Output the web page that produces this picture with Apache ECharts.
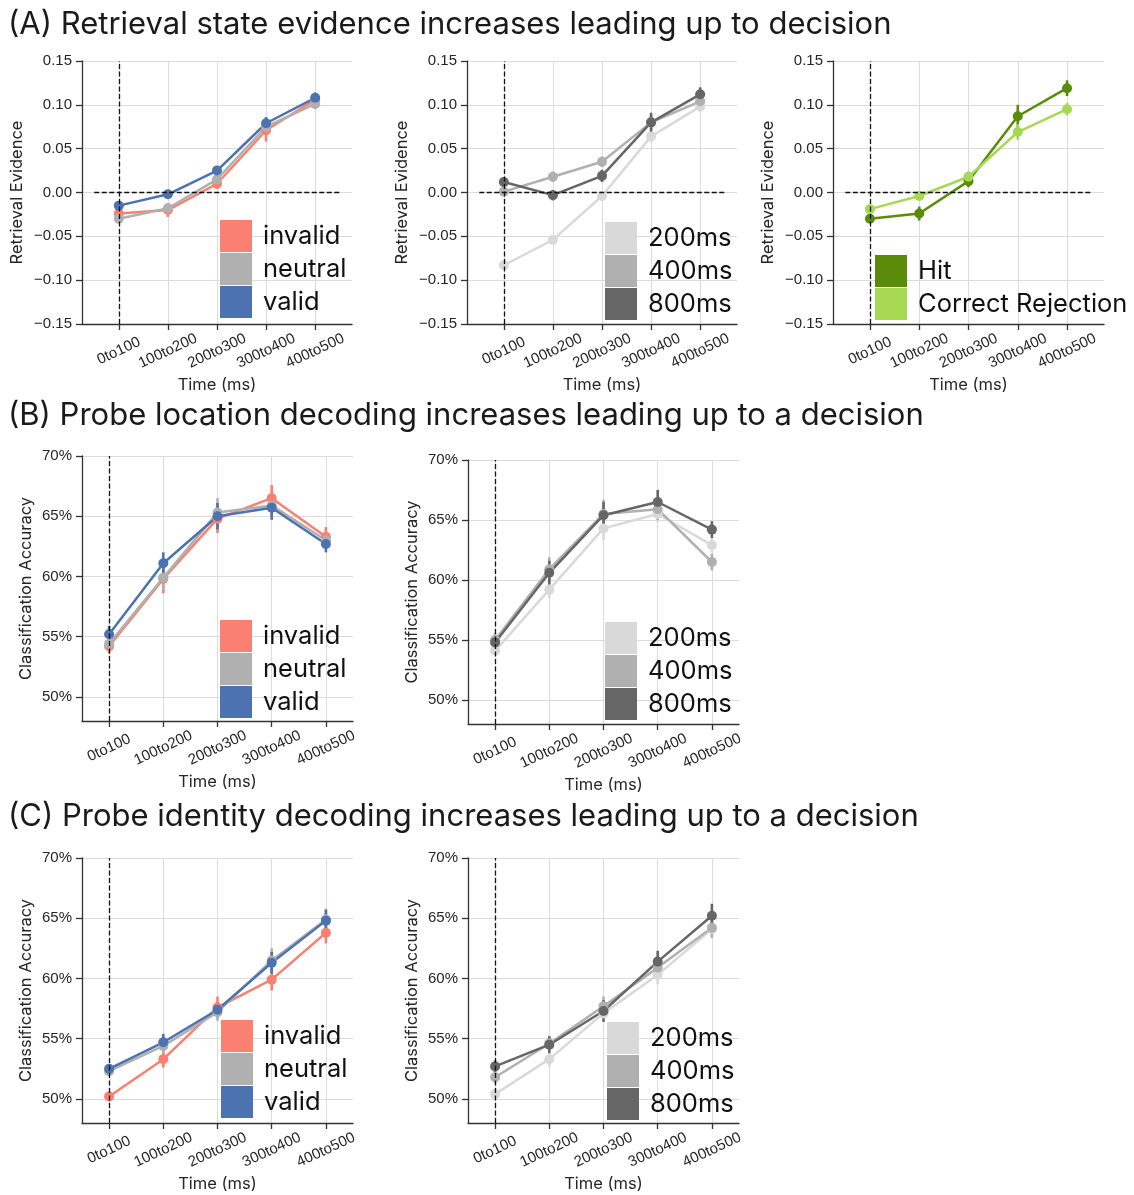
<!DOCTYPE html>
<html>
<head>
<meta charset="utf-8">
<script src="https://cdn.jsdelivr.net/npm/echarts@6/dist/echarts.min.js"></script>
<style>
html,body{margin:0;padding:0;background:#fff;}
#chart{width:1134px;height:1195px;}
</style>
</head>
<body>
<div id="chart"></div>
<script>
// ---------- data ----------
const categories = ['0to100', '100to200', '200to300', '300to400', '400to500'];
const retrievalTicks = [-0.15, -0.10, -0.05, 0, 0.05, 0.10, 0.15];
const accuracyTicks = [50, 55, 60, 65, 70];

const cueNames = ['invalid', 'neutral', 'valid'];
const delayNames = ['200ms', '400ms', '800ms'];
const respNames = ['Hit', 'Correct Rejection'];

// (A) retrieval evidence
const retInvalid = [-0.024, -0.020, 0.010, 0.071, 0.106];
const retNeutral = [-0.030, -0.018, 0.015, 0.075, 0.101];
const retValid = [-0.015, -0.002, 0.025, 0.079, 0.108];
const retInvalidErr = [0.005, 0.008, 0.006, 0.013, 0.006];
const retNeutralErr = [0.005, 0.006, 0.006, 0.008, 0.006];
const retValidErr = [0.004, 0.004, 0.005, 0.007, 0.006];

const ret200 = [-0.083, -0.054, -0.004, 0.064, 0.098];
const ret400 = [0.001, 0.018, 0.035, 0.080, 0.104];
const ret800 = [0.012, -0.003, 0.019, 0.080, 0.112];
const ret200Err = [0.003, 0.005, 0.005, 0.007, 0.006];
const ret400Err = [0.005, 0.006, 0.006, 0.008, 0.006];
const ret800Err = [0.005, 0.006, 0.007, 0.011, 0.008];

const retHit = [-0.030, -0.024, 0.013, 0.087, 0.119];
const retCR = [-0.019, -0.004, 0.018, 0.069, 0.095];
const retHitErr = [0.004, 0.008, 0.007, 0.013, 0.009];
const retCRErr = [0.004, 0.005, 0.006, 0.009, 0.007];

// (B) probe location decoding (%)
const locInvalid = [54.2, 59.8, 64.8, 66.5, 63.3];
const locNeutral = [54.4, 59.9, 65.3, 65.9, 63.0];
const locValid = [55.2, 61.1, 65.0, 65.7, 62.7];
const locInvalidErr = [0.6, 1.2, 1.2, 1.1, 0.8];
const locNeutralErr = [0.5, 1.0, 1.2, 1.0, 0.7];
const locValidErr = [0.7, 0.9, 1.1, 1.0, 0.7];

const loc200 = [54.1, 59.2, 64.3, 65.5, 62.9];
const loc400 = [55.0, 60.9, 65.5, 65.9, 61.5];
const loc800 = [54.8, 60.6, 65.4, 66.5, 64.2];
const loc200Err = [0.4, 0.7, 1.0, 0.7, 0.6];
const loc400Err = [0.6, 1.0, 1.2, 0.9, 0.7];
const loc800Err = [0.6, 1.0, 1.1, 1.0, 0.7];

// (C) probe identity decoding (%)
const idInvalid = [50.2, 53.3, 57.6, 59.9, 63.8];
const idNeutral = [52.3, 54.4, 57.2, 61.5, 64.9];
const idValid = [52.5, 54.7, 57.4, 61.3, 64.8];
const idInvalidErr = [0.4, 0.7, 0.9, 0.9, 0.9];
const idNeutralErr = [0.3, 0.6, 0.7, 1.0, 0.9];
const idValidErr = [0.3, 0.7, 0.6, 0.9, 0.9];

const id200 = [50.4, 53.3, 57.1, 60.3, 64.1];
const id400 = [51.8, 54.6, 57.7, 60.9, 64.2];
const id800 = [52.7, 54.5, 57.3, 61.4, 65.2];
const id200Err = [0.4, 0.6, 0.7, 0.8, 0.8];
const id400Err = [0.5, 0.6, 0.8, 0.8, 0.8];
const id800Err = [0.5, 0.7, 0.9, 0.9, 1.0];

const titles = [
  '(A) Retrieval state evidence increases leading up to decision',
  '(B) Probe location decoding increases leading up to a decision',
  '(C) Probe identity decoding increases leading up to a decision'
];

// ---------- styling ----------
const FONT = '"Liberation Sans", Arial, Helvetica, sans-serif';
const WIDE = 'Inter, "Liberation Sans", Arial, sans-serif';
const cueColors = ['#fa8072', '#b0b0b0', '#4c72b0'];
const delayColors = ['#d9d9d9', '#b0b0b0', '#666666'];
const respColors = ['#5b8c09', '#a6d854'];
const AXIS_COLOR = '#333333';
const GRID_COLOR = '#dcdcdc';

const option = {
  animation: false,
  backgroundColor: '#ffffff',
  textStyle: { fontFamily: FONT },
  grid: [], xAxis: [], yAxis: [], series: [], legend: [],
  graphic: []
};

const titleY = [25, 416, 817];
titles.forEach((t, i) => {
  option.graphic.push({
    type: 'text', x: 8, y: titleY[i],
    style: { text: t, font: '31px ' + WIDE, fill: '#1a1a1a', verticalAlign: 'middle', align: 'left' }
  });
});

function addPanel(p) {
  const gi = option.grid.length;
  option.grid.push({ left: p.left, top: p.top, width: p.width, height: p.height,
                     containLabel: false, outerBoundsMode: 'none' });
  option.xAxis.push({
    type: 'value', gridIndex: gi, min: p.xmin, max: p.xmax,
    name: 'Time (ms)', nameLocation: 'middle', nameGap: 53,
    nameTextStyle: { fontSize: 16.5, color: '#262626', fontFamily: WIDE },
    axisLine: { show: true, onZero: false, lineStyle: { color: AXIS_COLOR, width: 1.3 } },
    axisTick: { show: true, length: 6, customValues: [0, 1, 2, 3, 4], lineStyle: { color: AXIS_COLOR, width: 1.3 } },
    axisLabel: { show: true, customValues: [0, 1, 2, 3, 4], rotate: 25, align: 'center', verticalAlign: 'middle',
                 margin: 27, fontSize: 15, color: '#262626', fontFamily: FONT,
                 formatter: v => categories[Math.round(v)] },
    splitLine: { show: true, lineStyle: { color: GRID_COLOR, width: 1 } }
  });
  option.yAxis.push({
    type: 'value', gridIndex: gi, min: p.ymin, max: p.ymax,
    name: p.yName, nameLocation: 'middle', nameGap: p.yNameGap,
    nameTextStyle: { fontSize: 16.5, color: '#262626', fontFamily: WIDE },
    axisLine: { show: true, onZero: false, lineStyle: { color: AXIS_COLOR, width: 1.3 } },
    axisTick: { show: true, length: 6, customValues: p.yTicks, lineStyle: { color: AXIS_COLOR, width: 1.3 } },
    axisLabel: { show: true, customValues: p.yTicks, margin: 10, fontSize: 15, color: '#262626',
                 fontFamily: FONT, formatter: p.yFmt },
    splitLine: { show: true, lineStyle: { color: GRID_COLOR, width: 1 } }
  });
  // dashed reference lines
  const refData = [{ xAxis: 0 }];
  if (p.hline) refData.push([{ coord: [-0.5, 0] }, { coord: [4.5, 0] }]);
  option.series.push({
    type: 'line', xAxisIndex: gi, yAxisIndex: gi, data: [], silent: true, z: 1,
    markLine: { silent: true, symbol: 'none', label: { show: false }, animation: false,
                lineStyle: { color: '#111', width: 1.3, type: [5, 2.5] }, data: refData,
                emphasis: { disabled: true } }
  });
  p.series.forEach(s => {
    const col = s.color;
    option.series.push({
      type: 'custom', xAxisIndex: gi, yAxisIndex: gi, silent: true, z: 2,
      data: s.values.map((v, i) => [i, v - s.err[i], v + s.err[i]]),
      renderItem: function (params, api) {
        const x = api.value(0);
        const a = api.coord([x, api.value(1)]);
        const b = api.coord([x, api.value(2)]);
        return { type: 'line', shape: { x1: a[0], y1: a[1], x2: b[0], y2: b[1] },
                 style: { stroke: col, lineWidth: 2.6 } };
      }
    });
    option.series.push({
      type: 'line', name: s.name, xAxisIndex: gi, yAxisIndex: gi, z: 2,
      data: s.values.map((v, i) => [i, v]),
      symbol: 'circle', symbolSize: 10, showSymbol: true,
      lineStyle: { color: col, width: 2.5 },
      itemStyle: { color: col, borderWidth: 0 },
      emphasis: { disabled: true }, silent: true
    });
  });
  option.legend.push({
    left: p.legLeft, top: p.legTop, orient: 'vertical', padding: 0,
    itemWidth: 32, itemHeight: 32, itemGap: 1, icon: 'rect', selectedMode: false,
    textStyle: { fontSize: 25.5, color: '#111', fontFamily: WIDE, padding: [0, 0, 0, 6] },
    itemStyle: { borderWidth: 0 },
    data: p.series.map(s => ({ name: s.name, icon: 'rect', itemStyle: { color: s.color, borderWidth: 0 } }))
  });
}

const retFmt = v => (v < -1e-9 ? '\u2212' : '') + Math.abs(v).toFixed(2);
const pctFmt = v => Math.round(v) + '%';

function mk(names, colors, vals, errs) {
  return names.map((n, i) => ({ name: n, color: colors[i], values: vals[i], err: errs[i] }));
}

const retCommon = { xmin: -0.75, xmax: 4.75, ymin: -0.15, ymax: 0.15, yTicks: retrievalTicks,
                    yFmt: retFmt, yName: 'Retrieval Evidence', yNameGap: 56, hline: true, top: 61, height: 263 };
const accCommon = { xmin: -0.5, xmax: 4.5, ymin: 48, ymax: 70, yTicks: accuracyTicks,
                    yFmt: pctFmt, yName: 'Classification Accuracy', yNameGap: 47, hline: false };

addPanel(Object.assign({}, retCommon, { left: 82, width: 270, legLeft: 220, legTop: 220,
  series: mk(cueNames, cueColors, [retInvalid, retNeutral, retValid], [retInvalidErr, retNeutralErr, retValidErr]) }));
addPanel(Object.assign({}, retCommon, { left: 467, width: 270, legLeft: 605, legTop: 222,
  series: mk(delayNames, delayColors, [ret200, ret400, ret800], [ret200Err, ret400Err, ret800Err]) }));
addPanel(Object.assign({}, retCommon, { left: 833, width: 271, legLeft: 875, legTop: 255,
  series: mk(respNames, respColors, [retHit, retCR], [retHitErr, retCRErr]) }));

addPanel(Object.assign({}, accCommon, { left: 82, top: 456, width: 271, height: 265, legLeft: 220, legTop: 620,
  series: mk(cueNames, cueColors, [locInvalid, locNeutral, locValid], [locInvalidErr, locNeutralErr, locValidErr]) }));
addPanel(Object.assign({}, accCommon, { left: 468, top: 460, width: 271, height: 264, legLeft: 605, legTop: 622,
  series: mk(delayNames, delayColors, [loc200, loc400, loc800], [loc200Err, loc400Err, loc800Err]) }));

addPanel(Object.assign({}, accCommon, { left: 82, top: 858, width: 271, height: 265, legLeft: 221, legTop: 1020,
  series: mk(cueNames, cueColors, [idInvalid, idNeutral, idValid], [idInvalidErr, idNeutralErr, idValidErr]) }));
addPanel(Object.assign({}, accCommon, { left: 468, top: 858, width: 271, height: 265, legLeft: 607, legTop: 1022,
  series: mk(delayNames, delayColors, [id200, id400, id800], [id200Err, id400Err, id800Err]) }));

const chart = echarts.init(document.getElementById('chart'), null, { renderer: 'canvas' });
chart.setOption(option);
</script>
</body>
</html>
